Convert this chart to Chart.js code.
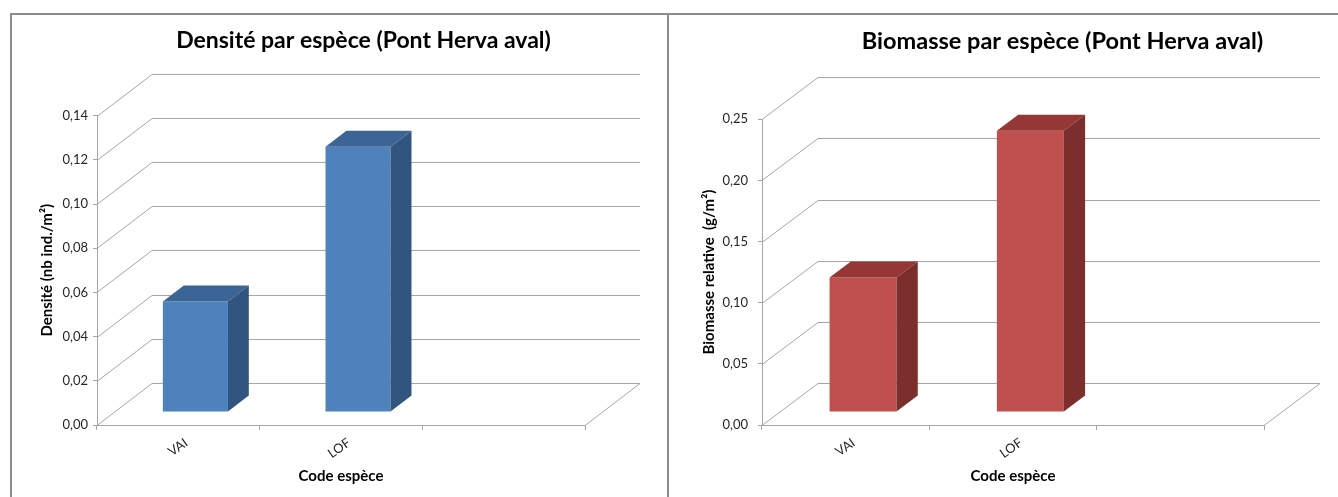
<!DOCTYPE html>
<html>
<head>
<meta charset="utf-8">
<script src="https://cdn.jsdelivr.net/npm/chart.js@4.4.1/dist/chart.umd.min.js"></script>
<style>
  html, body { margin: 0; padding: 0; background: #fff; overflow: hidden; width: 1338px; height: 497px; }
  .box { position: absolute; top: 13px; height: 520px; border: 2px solid #8c8c8c; overflow: hidden; background: #fff; }
  #boxL { left: 10px; width: 655px; }
  #boxR { left: 667px; width: 700px; }
  canvas { position: absolute; left: 0; top: 0; }
</style>
</head>
<body>
<div class="box" id="boxL"><canvas id="densite"></canvas></div>
<div class="box" id="boxR"><canvas id="biomasse"></canvas></div>
<script>
// categories
const codes = ['VAI', 'LOF', ''];

// series values
const densite = [0.05, 0.12, null];
const biomasse = [0.11, 0.23, null];

// tick labels of the value axes
const densiteTicks = [0, 0.02, 0.04, 0.06, 0.08, 0.10, 0.12, 0.14];
const biomasseTicks = [0, 0.05, 0.10, 0.15, 0.20, 0.25];

const FONT = 'Lato, "Open Sans", sans-serif';
const GRID = '#a6a6a6';

// fake 3D: back wall, side wall, floor, and the bar top/side faces
const depth3d = {
  id: 'depth3d',
  beforeDatasetsDraw(chart, args, o) {
    const {ctx, chartArea: a, scales: {y}} = chart;
    ctx.save();
    ctx.strokeStyle = GRID;
    ctx.lineWidth = 1;
    y.ticks.forEach(t => {
      const py = Math.round(y.getPixelForValue(t.value)) + 0.5;
      ctx.beginPath();
      ctx.moveTo(a.left, py);
      ctx.lineTo(a.left + o.dx, py + o.dy);
      ctx.lineTo(a.right + o.dx, py + o.dy);
      ctx.stroke();
    });
    const pb = Math.round(a.bottom) + 0.5;
    ctx.beginPath();
    ctx.moveTo(a.right, pb);
    ctx.lineTo(a.right + o.dx, pb + o.dy);
    ctx.stroke();
    ctx.restore();

    // bars sit in the middle of the depth
    ctx.save();
    ctx.translate(o.dx * o.front, o.dy * o.front);
  },
  afterDatasetsDraw(chart, args, o) {
    const ctx = chart.ctx;
    const bx = o.dx * o.bar, by = o.dy * o.bar;
    const values = chart.data.datasets[0].data;
    chart.getDatasetMeta(0).data.forEach((bar, i) => {
      if (values[i] == null) return;
      const l = bar.x - bar.width / 2, r = bar.x + bar.width / 2;
      const t = bar.y, b = bar.base;
      ctx.fillStyle = o.top;
      ctx.beginPath();
      ctx.moveTo(l, t); ctx.lineTo(l + bx, t + by); ctx.lineTo(r + bx, t + by); ctx.lineTo(r, t);
      ctx.closePath(); ctx.fill();
      ctx.fillStyle = o.side;
      ctx.beginPath();
      ctx.moveTo(r, t); ctx.lineTo(r + bx, t + by); ctx.lineTo(r + bx, b + by); ctx.lineTo(r, b);
      ctx.closePath(); ctx.fill();
    });
    ctx.restore();
  }
};

function makeChart(id, s) {
  const canvas = document.getElementById(id);
  canvas.width = s.width; canvas.height = 482;
  canvas.style.width = s.width + 'px'; canvas.style.height = '482px';
  return new Chart(canvas, {
    type: 'bar',
    data: {
      labels: codes,
      datasets: [{
        data: s.values,
        backgroundColor: s.front,
        borderWidth: 0,
        categoryPercentage: 1,
        barPercentage: 0.4
      }]
    },
    plugins: [depth3d],
    options: {
      responsive: false,
      animation: false,
      devicePixelRatio: 1,
      layout: { padding: 0 },
      plugins: {
        legend: { display: false },
        tooltip: { enabled: false },
        title: {
          display: true,
          text: s.title,
          color: '#000',
          font: { family: FONT, size: s.titleSize, weight: 'bold' },
          padding: { top: 12, bottom: s.titleGap }
        },
        depth3d: { dx: s.dx, dy: -42, front: 0.31, bar: 0.38, top: s.topFace, side: s.sideFace }
      },
      scales: {
        x: {
          grid: { drawOnChartArea: false, color: GRID, tickLength: 5 },
          border: { display: true, color: GRID },
          ticks: {
            color: '#262626', font: { family: FONT, size: 13 },
            minRotation: 35, maxRotation: 35, labelOffset: 8, padding: 5
          },
          title: {
            display: true, text: 'Code espèce', color: '#000',
            font: { family: FONT, size: 15, weight: 'bold' },
            padding: { top: 0, bottom: 12 }
          },
          afterFit: sc => { sc.height = 72; }
        },
        y: {
          min: 0,
          max: s.ticks[s.ticks.length - 1],
          afterBuildTicks: sc => { sc.ticks = s.ticks.map(v => ({ value: v })); },
          grid: { drawOnChartArea: false, color: GRID, tickLength: 4 },
          border: { display: true, color: GRID },
          ticks: {
            color: '#262626', font: { family: FONT, size: 13 }, padding: s.tickPad,
            callback: v => v.toFixed(2).replace('.', ',')
          },
          title: {
            display: true, text: s.yTitle, color: '#000',
            font: { family: FONT, size: 15, weight: 'bold' },
            padding: { top: s.yTitlePad, bottom: 0 }
          },
          afterFit: sc => { sc.width = s.axisWidth; }
        },
        room: {
          position: 'right',
          grid: { display: false },
          border: { display: false },
          ticks: { display: false },
          afterFit: sc => { sc.width = s.width - s.areaRight; }
        }
      }
    }
  });
}

makeChart('densite', {
  width: 703, areaRight: 573, axisWidth: 85, titleSize: 23, titleGap: 61, tickPad: 5, yTitlePad: 26, dx: 55,
  title: 'Densité par espèce (Pont Herva aval)',
  yTitle: 'Densité (nb ind./m²)',
  values: densite, ticks: densiteTicks,
  front: '#4f81bd', topFace: '#3c6596', sideFace: '#32557f'
});

makeChart('biomasse', {
  width: 787, areaRight: 595, axisWidth: 93, titleSize: 23.5, titleGap: 64, tickPad: 10, yTitlePad: 31, dx: 56,
  title: 'Biomasse par espèce (Pont Herva aval)',
  yTitle: 'Biomasse relative  (g/m²)',
  values: biomasse, ticks: biomasseTicks,
  front: '#c0504d', topFace: '#943735', sideFace: '#7c2e2d'
});
</script>
</body>
</html>
